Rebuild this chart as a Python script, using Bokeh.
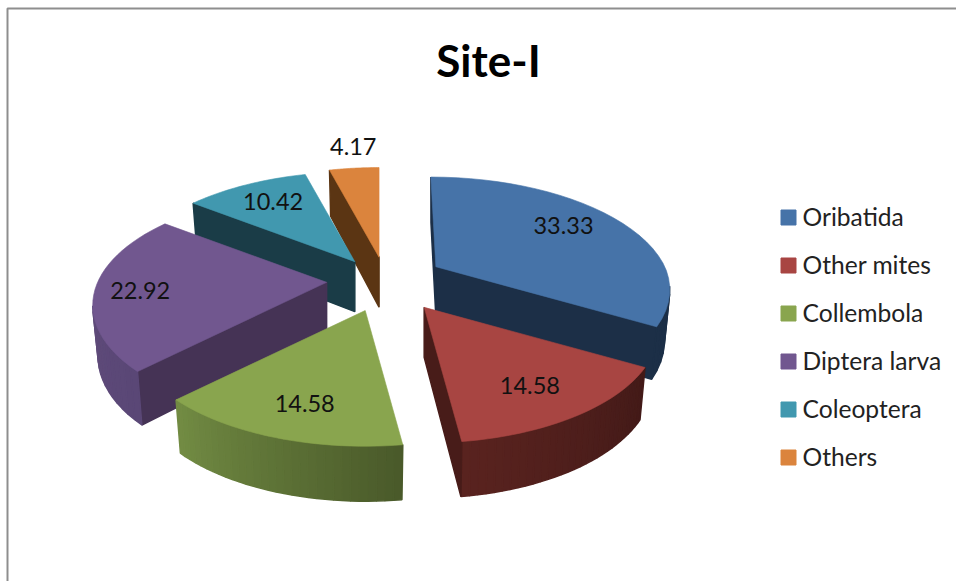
import numpy as np
from bokeh.core.properties import value
from bokeh.embed import file_html
from bokeh.models import Range1d
from bokeh.plotting import figure
from bokeh.resources import INLINE

TITLE = "Site-I"
GROUPS = ["Oribatida", "Other mites", "Collembola", "Diptera larva", "Coleoptera", "Others"]
SHARES = [33.33, 14.58, 14.58, 22.92, 10.42, 4.17]

TOP_COLORS = ["#4673A8", "#A84542", "#89A54E", "#71578F", "#4198AF", "#DB843D"]
CUT_COLORS = ["#1C2F47", "#481C19", "#4A5A2A", "#453355", "#1A3C47", "#5B3513"]
# Outer wall shade at the start and end of each slice's arc.
WALL_START = ["#1C2F47", "#431A18", "#4A5A2A", "#5A4776", "#1A3C47", "#5B3513"]
WALL_END = ["#1C2F47", "#5A231F", "#738D44", "#65507F", "#1A3C47", "#5B3513"]

# Fine placement of each slice's tip beyond the common explosion, in pixels.
TIP_NUDGE = [(0, -4), (6, 0), (-3, 0), (-3, -4), (0, 0), (0, 0)]
# Sideways lean of a slice's far part toward the vanishing point, in pixels per radius.
BACK_LEAN = [5, 0, 0, 0, 0, 0]
# Distance of each value label from its slice's tip, as a fraction of the radius.
LABEL_REACH = [0.62, 0.74, 0.78, 0.82, 0.72, 1.30]
LABEL_SHIFT = [(12, -10), (-2, 2), (7, -1), (3, 2), (0, -3), (5, -1)]

FONT = "Lato"

# Projection of the tilted, exploded pie onto the page (pixel units).
CENTER_X, CENTER_Y = 386.0, 284.0
EXPLODE_X, EXPLODE_Y = 57.0, 27.5
RADIUS_X, RADIUS_Y = 229.0, 108.0
PERSPECTIVE = 0.204
DEPTH = 50.0
DEPTH_FALLOFF = 0.09
BOTTOM_SHRINK = 0.977


def rgb(color):
    return np.array([int(color[i:i + 2], 16) for i in (1, 3, 5)], dtype=float)


def mix(a, b, t):
    c = rgb(a) * (1 - t) + rgb(b) * t
    return "#%02x%02x%02x" % tuple(int(round(v)) for v in c)


def project(tip, theta, r, lean=0.0):
    """Local polar position on a slice to page position: returns x, y, wall height, local x."""
    u, v = r * np.sin(theta), r * np.cos(theta)
    s = 1.0 / (1.0 + PERSPECTIVE * v)
    x = RADIUS_X * u * s - lean * max(v, 0.0)
    y = -RADIUS_Y * v * s
    depth = DEPTH / (1.0 + DEPTH_FALLOFF * v)
    return tip[0] + x, tip[1] + y, depth, x


p = figure(width=956, height=581, output_backend="svg", toolbar_location=None,
           x_range=Range1d(0, 956), y_range=Range1d(581, 0),
           min_border=0, outline_line_color=None)
p.axis.visible = False
p.grid.visible = False

# Chart frame: only the top and left edges fall inside the page.
p.line([7, 7, 956], [581, 8, 8], line_color="#8E8E8E", line_width=2)

edges = np.cumsum([0.0] + SHARES) / sum(SHARES) * 2 * np.pi
slices = []
for i, share in enumerate(SHARES):
    a0, a1 = edges[i], edges[i + 1]
    mid = (a0 + a1) / 2
    tip = (CENTER_X + EXPLODE_X * np.sin(mid) + TIP_NUDGE[i][0],
           CENTER_Y - EXPLODE_Y * np.cos(mid) + TIP_NUDGE[i][1])
    slices.append(dict(i=i, a0=a0, a1=a1, mid=mid, tip=tip))

# Paint far slices before near ones.
for s in sorted(slices, key=lambda q: np.cos(q["mid"]), reverse=True):
    i, tip = s["i"], s["tip"]
    thetas = np.linspace(s["a0"], s["a1"], 31)
    arc = [project(tip, t, 1.0, BACK_LEAN[i]) for t in thetas]
    ring = [(tip[0], tip[1], DEPTH, 0.0)] + arc

    def bottom(pt):
        return tip[0] + pt[3] * BOTTOM_SHRINK, pt[1] + pt[2]

    xs, ys, fills = [], [], []
    n = len(ring)
    for k in range(n):
        a, b = ring[k], ring[(k + 1) % n]
        # Walls on the lower side of a clockwise outline face the viewer.
        if b[0] >= a[0]:
            continue
        ba, bb = bottom(a), bottom(b)
        xs.append([a[0], b[0], bb[0], ba[0]])
        ys.append([a[1], b[1], bb[1], ba[1]])
        if k == 0 or k == n - 1:
            fills.append(CUT_COLORS[i])
        else:
            fills.append(mix(WALL_START[i], WALL_END[i], (k - 1) / (n - 2)))
    if xs:
        p.patches(xs, ys, fill_color=fills, line_color=fills, line_width=1.5)

    p.patch([q[0] for q in ring], [q[1] for q in ring],
            fill_color=TOP_COLORS[i], line_color=TOP_COLORS[i], line_width=0.6)

# Value labels.
for s in slices:
    i = s["i"]
    lx, ly, _, _ = project(s["tip"], s["mid"], LABEL_REACH[i])
    p.text([lx + LABEL_SHIFT[i][0]], [ly + LABEL_SHIFT[i][1]], text=[f"{SHARES[i]:.2f}"],
           text_font=value(FONT), text_font_size="23.5px",
           text_color="#111111", text_align="center", text_baseline="middle")

# Title.
p.text([488], [59], text=[TITLE], text_font=value(FONT), text_font_style="bold",
       text_font_size="44px", text_color="#000000", text_align="center", text_baseline="middle")

# Legend, laid out by hand to keep its spacing.
LEGEND_TOP, LEGEND_STEP = 217.0, 48.0
rows = [LEGEND_TOP + LEGEND_STEP * i for i in range(len(GROUPS))]
p.rect([788] * len(GROUPS), rows, width=15, height=15, fill_color=TOP_COLORS, line_color=TOP_COLORS)
p.text([802] * len(GROUPS), [r - 1.5 for r in rows], text=GROUPS, text_font=value(FONT),
       text_font_size="24.6px", text_color="#222222", text_align="left", text_baseline="middle")

open("out.html", "w").write(file_html(p, INLINE))
